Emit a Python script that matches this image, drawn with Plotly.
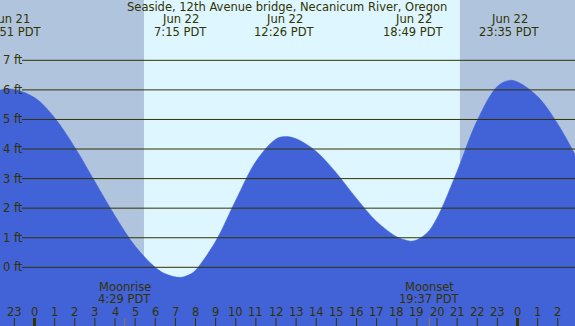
import plotly.graph_objects as go

# Hours measured from Jun 22 00:00 PDT
tide_hours = [-2, -1.15, 0, 1, 2, 3, 4, 5, 6, 6.5, 7.25, 7.75, 8, 9, 10, 11, 12, 12.43, 13, 14,
              15, 16, 17, 18, 18.3, 18.82, 19.5, 20, 21, 22, 23, 23.58, 24, 25, 26, 27]
tide_ft = [5.95, 6.03, 5.74, 5.06, 4.06, 2.90, 1.74, 0.72, 0.00, -0.22, -0.34, -0.23, -0.10, 0.88,
           2.27, 3.58, 4.34, 4.42, 4.35, 3.92, 3.19, 2.33, 1.55, 1.03, 0.95, 0.89, 1.16, 1.67,
           3.25, 4.97, 6.12, 6.32, 6.27, 5.78, 4.85, 3.63]

event_hours = [-1.15, 7.25, 12.43, 18.82, 23.58]
event_dates = ["Jun 21", "Jun 22", "Jun 22", "Jun 22", "Jun 22"]
event_times = ["22:51 PDT", "7:15 PDT", "12:26 PDT", "18:49 PDT", "23:35 PDT"]

sunrise_h = 5.44
sunset_h = 21.14
moon_hours = [4.483, 19.617]
moon_names = ["Moonrise", "Moonset"]
moon_times = ["4:29 PDT", "19:37 PDT"]

hour_ticks = list(range(-1, 27))
hour_labels = [str(h % 24) for h in hour_ticks]
ft_levels = [0, 1, 2, 3, 4, 5, 6, 7]
ft_labels = [f"{v} ft" for v in ft_levels]

title = "Seaside, 12th Avenue bridge, Necanicum River, Oregon"

W, H = 575, 326
X0, X1 = -1.714, 26.857
Y0, Y1 = -1.985, 9.04
TXT = "#333300"
FONT = "DejaVu Sans"
FS = 11.5

def py(p):
    return 1 - p / H

fig = go.Figure()
fig.add_trace(go.Scatter(x=[X0 - 1, X1 + 1], y=[Y0 - 1, Y0 - 1], mode="lines",
                         line=dict(width=0), hoverinfo="skip", showlegend=False))
fig.add_trace(go.Scatter(x=tide_hours, y=tide_ft, mode="lines",
                         line=dict(color="#4262d8", width=0.5, shape="spline", smoothing=1.0),
                         fill="tonexty", fillcolor="#4262d8", showlegend=False))

shapes = []
# night shading
shapes.append(dict(type="rect", xref="x", yref="paper", x0=X0 - 1, x1=sunrise_h, y0=0, y1=1,
                   fillcolor="#b0c4de", line=dict(width=0), layer="below"))
shapes.append(dict(type="rect", xref="x", yref="paper", x0=sunset_h, x1=X1 + 1, y0=0, y1=1,
                   fillcolor="#b0c4de", line=dict(width=0), layer="below"))
# gridlines
for v in ft_levels:
    shapes.append(dict(type="line", xref="paper", yref="y", x0=22 / W, x1=1, y0=v, y1=v,
                       line=dict(color=TXT, width=1), layer="above"))
# hour ticks
for h in hour_ticks:
    w = 3 if h % 24 == 0 else 1
    shapes.append(dict(type="line", xref="x", yref="paper", x0=h, x1=h, y0=0, y1=8 / H,
                       line=dict(color=TXT, width=w), layer="above"))
for h in moon_hours:
    shapes.append(dict(type="line", xref="x", yref="paper", x0=h, x1=h, y0=0, y1=8 / H,
                       line=dict(color="#9a7a48", width=1), layer="above"))

ann = []
font = dict(family=FONT, size=FS, color=TXT)
ann.append(dict(text=title, xref="paper", yref="paper", x=0.499, y=py(7.3),
                xanchor="center", yanchor="middle", showarrow=False, font=font))
for h, d, t in zip(event_hours, event_dates, event_times):
    ann.append(dict(text=d, xref="x", yref="paper", x=h, y=py(19.3), xanchor="center",
                    yanchor="middle", showarrow=False, font=font))
    ann.append(dict(text=t, xref="x", yref="paper", x=h, y=py(31.7), xanchor="center",
                    yanchor="middle", showarrow=False, font=font))
for h, n, t in zip(moon_hours, moon_names, moon_times):
    ann.append(dict(text=n, xref="x", yref="paper", x=h, y=py(287.3), xanchor="center",
                    yanchor="middle", showarrow=False, font=font))
    ann.append(dict(text=t, xref="x", yref="paper", x=h, y=py(299.3), xanchor="center",
                    yanchor="middle", showarrow=False, font=font))
for h, lab in zip(hour_ticks, hour_labels):
    ann.append(dict(text=lab, xref="x", yref="paper", x=h, y=py(311.7), xanchor="center",
                    yanchor="middle", showarrow=False, font=font))
for v, lab in zip(ft_levels, ft_labels):
    ann.append(dict(text=lab, xref="paper", yref="y", x=0, y=v, xanchor="left",
                    yanchor="middle", xshift=1, showarrow=False, font=font))

fig.update_layout(
    width=W, height=H, margin=dict(l=0, r=0, t=0, b=0),
    plot_bgcolor="#ddf6ff", paper_bgcolor="#ddf6ff",
    xaxis=dict(range=[X0, X1], visible=False, fixedrange=True),
    yaxis=dict(range=[Y0, Y1], visible=False, fixedrange=True),
    shapes=shapes, annotations=ann, showlegend=False,
)
fig.write_html("out.html", config={"displayModeBar": False},
               post_script="document.body.style.margin='0';document.body.style.overflow='hidden';")
